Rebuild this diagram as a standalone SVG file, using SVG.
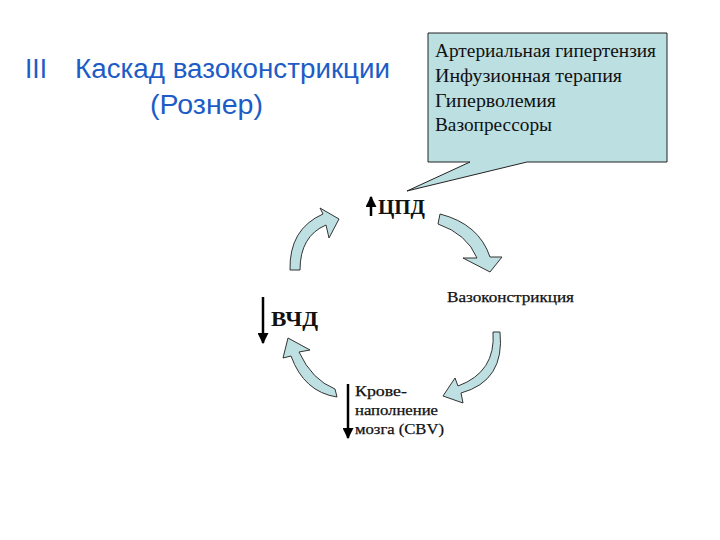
<svg xmlns="http://www.w3.org/2000/svg" width="720" height="540" viewBox="0 0 720 540">
<defs>
<style>
.title{font-family:"Liberation Sans",Arial,sans-serif;font-size:27px;fill:#1d5cc6}
.call{font-family:"Liberation Serif","Times New Roman",serif;font-size:19px;fill:#111}
.lbl{font-family:"Liberation Serif","Times New Roman",serif;fill:#111}
.big{font-size:20px;font-weight:bold}
.sm{font-size:14px;stroke:#111;stroke-width:0.25}
.carrow{fill:#bfe0e3;stroke:#333;stroke-width:1}
.stem{stroke:#000;stroke-width:2.5}
</style>
<marker id="ah" viewBox="0 0 10 10" refX="9" refY="5" markerWidth="4.4" markerHeight="4.4" orient="auto-start-reverse" markerUnits="strokeWidth">
<path d="M0,0 L10,5 L0,10 Z" fill="#000"/>
</marker>
</defs>
<rect width="720" height="540" fill="#fff"/>

<g id="title">
<text class="title" x="25" y="78" textLength="22" lengthAdjust="spacingAndGlyphs">III</text>
<text class="title" x="75" y="78" textLength="315" lengthAdjust="spacingAndGlyphs">Каскад вазоконстрикции</text>
<text class="title" x="150" y="114" textLength="113" lengthAdjust="spacingAndGlyphs">(Рознер)</text>
</g>

<g id="callout">
<path d="M428,33 L667,33 L667,162 L527,162 L407,191 L470,162 L428,162 Z" fill="#bcdfe2" stroke="#222" stroke-width="1"/>
<text class="call" x="435" y="57" textLength="221" lengthAdjust="spacingAndGlyphs">Артериальная гипертензия</text>
<text class="call" x="435" y="82" textLength="187" lengthAdjust="spacingAndGlyphs">Инфузионная терапия</text>
<text class="call" x="435" y="107" textLength="121" lengthAdjust="spacingAndGlyphs">Гиперволемия</text>
<text class="call" x="435" y="131" textLength="117" lengthAdjust="spacingAndGlyphs">Вазопрессоры</text>
</g>

<g id="cpd">
<line class="stem" x1="371" y1="216" x2="371" y2="197" marker-end="url(#ah)"/>
<text class="lbl big" x="378" y="214" textLength="47" lengthAdjust="spacingAndGlyphs">ЦПД</text>
</g>

<g id="vchd">
<line class="stem" x1="263" y1="297" x2="263" y2="343" marker-end="url(#ah)"/>
<text class="lbl big" x="271" y="326" textLength="47" lengthAdjust="spacingAndGlyphs">ВЧД</text>
</g>

<g id="vasoconstriction">
<text class="lbl sm" x="447" y="302" textLength="127" lengthAdjust="spacingAndGlyphs">Вазоконстрикция</text>
</g>

<g id="cbv">
<line class="stem" x1="348" y1="384" x2="348" y2="438" marker-end="url(#ah)"/>
<text class="lbl sm" x="355" y="396" textLength="52" lengthAdjust="spacingAndGlyphs">Крове-</text>
<text class="lbl sm" x="355" y="415" textLength="83" lengthAdjust="spacingAndGlyphs">наполнение</text>
<text class="lbl sm" x="355" y="434" textLength="89" lengthAdjust="spacingAndGlyphs">мозга (CBV)</text>
</g>

<g id="connectors">
<path class="carrow" d="M290,270 Q289,229 323,214 L320,208 L339,219 L329,238 L326,225 Q300,236 300,270 Z"/>
<path class="carrow" d="M440,214 Q479,224 490,257 L502,257 L490,272 L463,258 L477,258 Q467,234 438,224 Z"/>
<path class="carrow" d="M493,332 L500,332 Q505,381 461,393 L463,403 L443,396 L455,378 L458,386 Q496,372 493,332 Z"/>
<path class="carrow" d="M335,389 L337,397 Q304,392 291,356 L283,358 L288,338 L310,350 L299,352 Q312,380 335,389 Z"/>
</g>
</svg>
